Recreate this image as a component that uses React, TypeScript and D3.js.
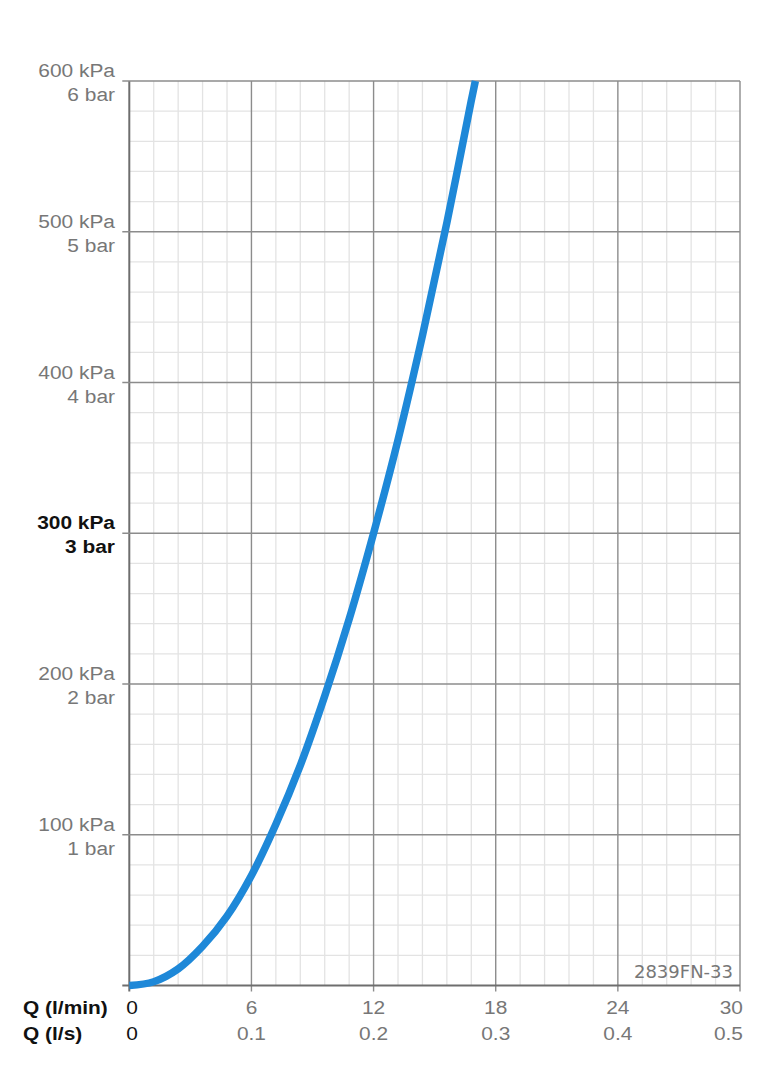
import React from "react";
import * as d3 from "d3";

const flowLpm = [0, 1.2, 2.4, 3.6, 4.8, 6, 7.2, 8.4, 9.6, 10.8, 12, 13.2, 14.4, 15.6, 16.8, 17];
const pressureKpa = [0, 2.5, 11, 26, 46, 73, 107, 146, 192, 243, 300, 362, 431, 506, 587, 600];

const yMajorTicks = [100, 200, 300, 400, 500, 600];
const yKpaLabels = ["100 kPa", "200 kPa", "300 kPa", "400 kPa", "500 kPa", "600 kPa"];
const yBarLabels = ["1 bar", "2 bar", "3 bar", "4 bar", "5 bar", "6 bar"];
const xMajorTicks = [0, 6, 12, 18, 24, 30];
const xLpmLabels = ["0", "6", "12", "18", "24", "30"];
const xLpsLabels = ["0", "0.1", "0.2", "0.3", "0.4", "0.5"];
const boldPressure = 300;

const W = 770;
const H = 1089;
const SX = 1.1;

export default function App() {
  const x = d3.scaleLinear().domain([0, 30]).range([129.3, 740]);
  const y = d3.scaleLinear().domain([0, 600]).range([985.5, 81]);

  const minorX = d3.range(0, 30.001, 1.2).filter((v) => Math.abs(v / 6 - Math.round(v / 6)) > 1e-6);
  const minorY = d3.range(0, 600.001, 20).filter((v) => v % 100 !== 0);

  const line = d3
    .line<number>()
    .x((_, i) => x(flowLpm[i]))
    .y((d) => y(d))
    .curve(d3.curveCatmullRom.alpha(0.5));

  const font = "'Liberation Sans', Arial, Helvetica, sans-serif";
  const gray = "#777";
  const major = "#8c8c8c";
  const minor = "#e3e3e3";

  const T = (props: { x: number; y: number; anchor: string; fill: string; bold?: boolean; children: string; size?: number }) => (
    <text
      transform={`translate(${props.x},${props.y}) scale(${SX},1)`}
      textAnchor={props.anchor}
      fill={props.fill}
      fontFamily={font}
      fontSize={props.size ?? 19}
      fontWeight={props.bold ? "bold" : "normal"}
    >
      {props.children}
    </text>
  );

  return (
    <svg
      width={W}
      height={H}
      style={{ position: "absolute", left: 0, top: 0, background: "#fff" }}
    >
      <rect x={0} y={0} width={W} height={H} fill="#fff" />
      {/* minor grid */}
      {minorX.map((v) => (
        <line key={"mx" + v} x1={x(v)} x2={x(v)} y1={y(0)} y2={y(600)} stroke={minor} strokeWidth={1.3} />
      ))}
      {minorY.map((v) => (
        <line key={"my" + v} x1={x(0)} x2={x(30)} y1={y(v)} y2={y(v)} stroke={minor} strokeWidth={1.3} />
      ))}
      {/* major grid */}
      {xMajorTicks.map((v) => (
        <line key={"Mx" + v} x1={x(v)} x2={x(v)} y1={y(600)} y2={y(0) + 6} stroke={v === 0 ? "#6e6e6e" : major} strokeWidth={v === 0 ? 2 : 1.4} />
      ))}
      {yMajorTicks.map((v) => (
        <line key={"My" + v} x1={x(0) - 7} x2={x(30)} y1={y(v)} y2={y(v)} stroke={major} strokeWidth={1.4} />
      ))}
      <line x1={x(0) - 7} x2={x(30)} y1={y(0)} y2={y(0)} stroke="#6e6e6e" strokeWidth={1.8} />

      {/* curve */}
      <path d={line(pressureKpa) || ""} fill="none" stroke="#1e88d8" strokeWidth={7.5} strokeLinecap="butt" />

      {/* y labels */}
      {yMajorTicks.map((v, i) => {
        const b = v === boldPressure;
        const c = b ? "#111" : gray;
        return (
          <g key={"yl" + v}>
            <T x={115} y={y(v) - 4} anchor="end" fill={c} bold={b}>{yKpaLabels[i]}</T>
            <T x={115} y={y(v) + 20} anchor="end" fill={c} bold={b}>{yBarLabels[i]}</T>
          </g>
        );
      })}

      {/* x labels */}
      <T x={23} y={1014} anchor="start" fill="#111" bold>Q (l/min)</T>
      <T x={23} y={1040} anchor="start" fill="#111" bold>Q (l/s)</T>
      {xMajorTicks.map((v, i) => {
        const first = i === 0;
        const last = i === xMajorTicks.length - 1;
        const px = first ? x(v) - 3 : last ? x(v) + 3 : x(v);
        const anchor = first ? "start" : last ? "end" : "middle";
        const c = first ? "#111" : gray;
        return (
          <g key={"xl" + v}>
            <T x={px} y={1014} anchor={anchor} fill={c}>{xLpmLabels[i]}</T>
            <T x={px} y={1040} anchor={anchor} fill={c}>{xLpsLabels[i]}</T>
          </g>
        );
      })}

      {/* code */}
      <text x={733} y={978} textAnchor="end" fill={gray} fontFamily="'DejaVu Sans', sans-serif" fontSize={18}>
        2839FN-33
      </text>
    </svg>
  );
}
